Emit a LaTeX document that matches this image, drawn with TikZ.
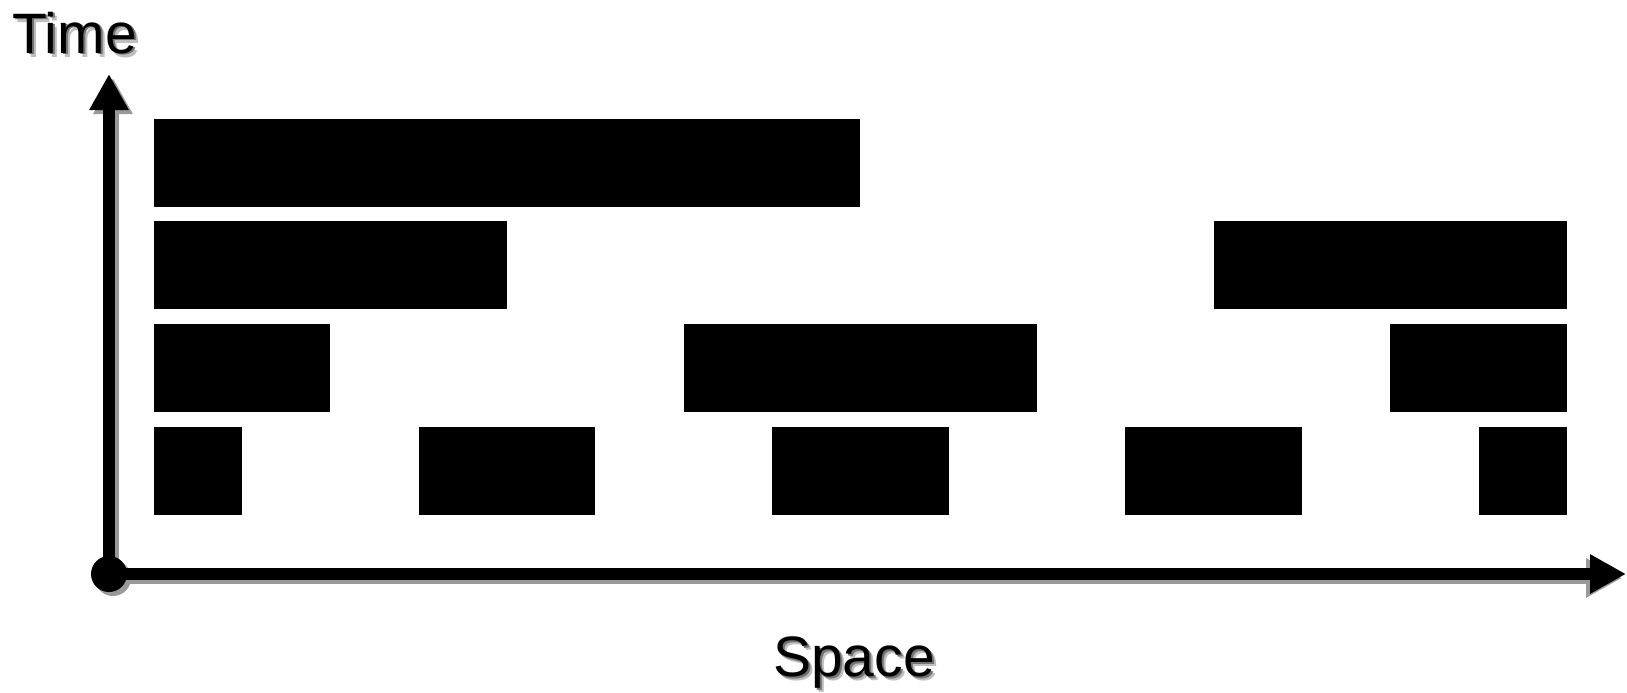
\documentclass[tikz,border=0pt]{standalone}
\usepackage{fontspec}
\setmainfont{Liberation Sans}
\usetikzlibrary{arrows.meta}
\begin{document}
\begin{tikzpicture}[x=1pt,y=-1pt,
  blk/.style={fill=black,draw=none,inner sep=0pt,anchor=north west,minimum height=88.2pt},
  axis/.style={line width=12pt,-{Triangle[length=36pt,width=37pt]}},
  axshadow/.style={axis,draw=black!40,fill=black!40},
  lbl/.style={inner sep=0pt,font=\fontsize{57}{68}\selectfont},
  lblshadowa/.style={lbl,text=black!25},
  lblshadowb/.style={lbl,text=black!55}]
\useasboundingbox (0,0) rectangle (1627,693);
\def\u{88.33}
\def\xo{153.6}
% rows: tops
\def\ra{118.3}\def\rb{221.0}\def\rc{323.7}\def\rd{426.5}
% row 1
\node[blk,minimum width=8*\u] (r1a) at (\xo,\ra) {};
% row 2
\node[blk,minimum width=4*\u] (r2a) at (\xo,\rb) {};
\node[blk,minimum width=4*\u] (r2b) at (\xo+12*\u,\rb) {};
% row 3
\node[blk,minimum width=2*\u] (r3a) at (\xo,\rc) {};
\node[blk,minimum width=4*\u] (r3b) at (\xo+6*\u,\rc) {};
\node[blk,minimum width=2*\u] (r3c) at (\xo+14*\u,\rc) {};
% row 4
\node[blk,minimum width=1*\u] (r4a) at (\xo,\rd) {};
\node[blk,minimum width=2*\u] (r4b) at (\xo+3*\u,\rd) {};
\node[blk,minimum width=2*\u] (r4c) at (\xo+7*\u,\rd) {};
\node[blk,minimum width=2*\u] (r4d) at (\xo+11*\u,\rd) {};
\node[blk,minimum width=1*\u] (r4e) at (\xo+15*\u,\rd) {};
% axes
\coordinate (o) at (109,574);
\coordinate (ytip) at (109,74);
\coordinate (xtip) at (1626,574);
\coordinate (os) at (113,578);
\coordinate (ytips) at (113,78);
\coordinate (xtips) at (1626,578);
\draw[axshadow] (os) -- (ytips);
\draw[axshadow] (os) -- ([xshift=-4pt]xtips);
\fill[black!40] (os) circle (18);
\draw[axis] (o) -- (ytip);
\draw[axis] (o) -- (xtip);
\node[circle,fill=black,inner sep=0pt,minimum size=36pt] (origin) at (o) {};
% labels
\node[lblshadowa,anchor=base west] (timesa) at (16,57) {Time};
\node[lblshadowb,anchor=base west] (timesb) at (14,55) {Time};
\node[lbl,anchor=base west] (time) at (12,53) {Time};
\node[lblshadowa,anchor=base] (spacesa) at (858,680) {Space};
\node[lblshadowb,anchor=base] (spacesb) at (856,678) {Space};
\node[lbl,anchor=base] (space) at (854,676) {Space};
\end{tikzpicture}
\end{document}
